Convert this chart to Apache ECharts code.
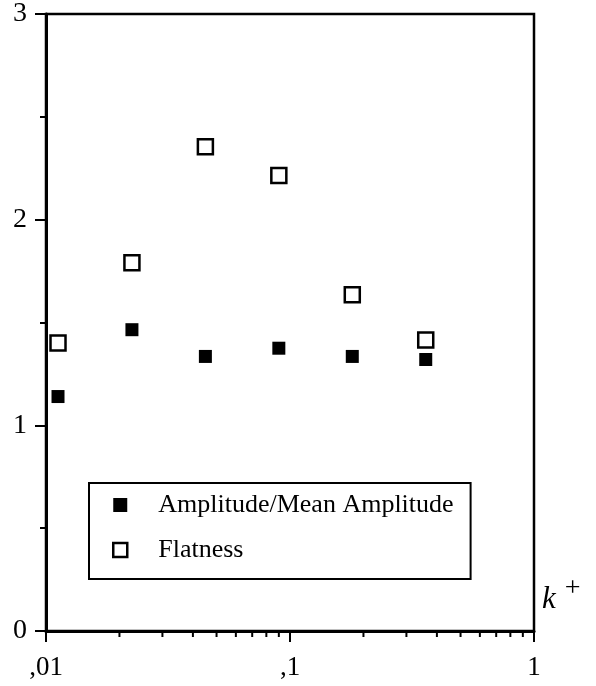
<!DOCTYPE html>
<html>
<head>
<meta charset="utf-8">
<script src="https://cdn.jsdelivr.net/npm/echarts@6/dist/echarts.min.js"></script>
<style>html,body{margin:0;padding:0;background:#fff;}#c{width:596px;height:686px;}</style>
</head>
<body>
<div id="c"></div>
<script>
// ---- data ----
const kPlus = [0.0112, 0.0225, 0.045, 0.09, 0.18, 0.36];
const amplitudeRatio = [1.14, 1.465, 1.335, 1.375, 1.335, 1.32];
const flatness = [1.40, 1.79, 2.355, 2.215, 1.635, 1.415];
const seriesNames = ['Amplitude/Mean Amplitude', 'Flatness'];
const xMinorTicks = [0.02, 0.03, 0.04, 0.05, 0.06, 0.07, 0.08, 0.09, 0.2, 0.3, 0.4, 0.5, 0.6, 0.7, 0.8, 0.9];
const xTickLabels = {0.01: ',01', 0.1: ',1', 1: '1'};

const FONT = '"Liberation Serif", "Times New Roman", serif';
const chart = echarts.init(document.getElementById('c'), null, {renderer: 'canvas'});

chart.setOption({
  animation: false,
  backgroundColor: '#fff',
  grid: {left: 46, right: 62, top: 11, bottom: 55, show: true, borderColor: '#000', borderWidth: 2.5, backgroundColor: 'transparent'},
  xAxis: {
    type: 'log', logBase: 10, min: 0.01, max: 1,
    axisLine: {show: true, lineStyle: {color: '#000', width: 3}},
    axisTick: {show: true, length: 11, inside: false, lineStyle: {color: '#000', width: 2}},
    splitLine: {show: false},
    minorTick: {show: false},
    axisLabel: {margin: 23, color: '#000', fontFamily: FONT, fontSize: 27,
      formatter: v => xTickLabels[v] !== undefined ? xTickLabels[v] : ''},
    name: '{k|k}{p|+}',
    nameLocation: 'end',
    nameGap: 8,
    nameTextStyle: {
      verticalAlign: 'bottom', align: 'left', padding: [0, 0, 6, 0],
      rich: {
        k: {fontFamily: FONT, fontStyle: 'italic', fontSize: 31, color: '#000'},
        p: {fontFamily: FONT, fontSize: 28, color: '#000', padding: [0, 0, 22, 9]}
      }
    }
  },
  yAxis: {
    type: 'value', min: 0, max: 3, interval: 1,
    axisLine: {show: true, lineStyle: {color: '#000', width: 3}},
    axisTick: {show: true, length: 11, lineStyle: {color: '#000', width: 2}},
    minorTick: {show: true, splitNumber: 2, length: 6, lineStyle: {color: '#000', width: 2}},
    splitLine: {show: false},
    axisLabel: {margin: 19, color: '#000', fontFamily: FONT, fontSize: 28}
  },
  legend: {
    data: [
      {name: seriesNames[0], itemStyle: {color: '#000', opacity: 1}},
      {name: seriesNames[1], itemStyle: {color: '#fff', borderColor: '#000', borderWidth: 2.5, opacity: 1}}
    ],
    orient: 'vertical',
    left: 89, top: 483,
    borderColor: '#000', borderWidth: 2,
    padding: [9, 17, 16, 23],
    itemGap: 19,
    itemWidth: 14, itemHeight: 14,
    formatter: name => '{g|}' + name,
    textStyle: {fontFamily: FONT, fontSize: 26, color: '#000', rich: {g: {width: 26}}}
  },
  series: [
    {
      name: seriesNames[0], type: 'scatter', symbol: 'rect', symbolSize: 13,
      itemStyle: {color: '#000', opacity: 1},
      data: kPlus.map((x, i) => [x, amplitudeRatio[i]]), z: 3
    },
    {
      name: seriesNames[1], type: 'scatter', symbol: 'rect', symbolSize: 15,
      itemStyle: {color: '#fff', borderColor: '#000', borderWidth: 2.5, opacity: 1},
      data: kPlus.map((x, i) => [x, flatness[i]]), z: 4
    },
    {
      name: 'minorTicks', type: 'custom', silent: true, clip: false,
      data: xMinorTicks.map(v => [v, 0]),
      renderItem: (params, api) => {
        const p = api.coord([api.value(0), 0]);
        return {type: 'line', shape: {x1: p[0], y1: p[1], x2: p[0], y2: p[1] + 6},
          style: {stroke: '#000', lineWidth: 2}};
      },
      z: 1
    }
  ]
});
</script>
</body>
</html>
